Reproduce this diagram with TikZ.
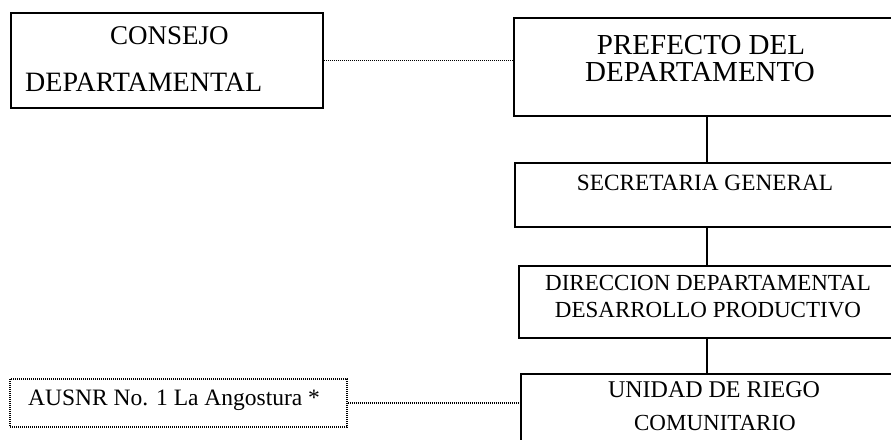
\documentclass[tikz,border=0pt]{standalone}
\usepackage{fontspec}
\setmainfont{Liberation Serif}
\begin{document}
\begin{tikzpicture}[x=1pt,y=-1pt,
  box/.style={draw=black,line width=1.6pt,rectangle,inner sep=0pt},
  dotbox/.style={draw=black,line width=1.2pt,dash pattern=on 1pt off 1pt,rectangle,inner sep=0pt},
  link/.style={draw=black,line width=1.4pt},
  dotlink/.style={draw=black,line width=1.2pt,dash pattern=on 1pt off 1pt},
  lbl/.style={inner sep=0pt,anchor=base,text=black}]
\useasboundingbox (0,0) rectangle (891,439);
% boxes
\node[box,minimum width=312pt,minimum height=95pt] (cons) at (167,60.5) {};
\node[box,minimum width=386pt,minimum height=98pt] (pref) at (707,67) {};
\node[box,minimum width=384pt,minimum height=64pt] (sec) at (707,195) {};
\node[box,minimum width=376pt,minimum height=72pt] (dir) at (707,302) {};
\node[box,minimum width=372pt,minimum height=72pt] (uni) at (707,410) {};
\node[dotbox,minimum width=337pt,minimum height=48pt] (aus) at (178.5,403) {};
% texts
\node[lbl,anchor=base west,font=\fontsize{27}{30}\selectfont] (t1) at (110,44) {CONSEJO};
\node[lbl,anchor=base west,font=\fontsize{28}{30}\selectfont] (t2) at (25,91) {DEPARTAMENTAL};
\node[lbl,font=\fontsize{29}{30}\selectfont] (t3) at (701,54) {PREFECTO DEL};
\node[lbl,font=\fontsize{29}{30}\selectfont] (t4) at (700,81) {DEPARTAMENTO};
\node[lbl,font=\fontsize{23.3}{26}\selectfont] (t5) at (705,190) {SECRETARIA GENERAL};
\node[lbl,font=\fontsize{23}{26}\selectfont] (t6) at (708,290.5) {DIRECCION DEPARTAMENTAL};
\node[lbl,font=\fontsize{23}{26}\selectfont] (t7) at (708,317.5) {DESARROLLO PRODUCTIVO};
\node[lbl,font=\fontsize{24}{26}\selectfont] (t8) at (714,397) {UNIDAD DE RIEGO};
\node[lbl,font=\fontsize{23}{26}\selectfont] (t9) at (715,430) {COMUNITARIO};
\node[lbl,anchor=base west,font=\fontsize{23.5}{26}\selectfont] (t10) at (28,405) {AUSNR No. 1 La Angostura *};
% connectors
\draw[link] (pref.south) -- (sec.north);
\draw[link] (sec.south) -- (dir.north);
\draw[link] (dir.south) -- (uni.north);
\draw[dotlink] (cons.east) -- (cons.east -| pref.west);
\draw[dotlink] (aus.east) -- (aus.east -| uni.west);
\end{tikzpicture}
\end{document}
